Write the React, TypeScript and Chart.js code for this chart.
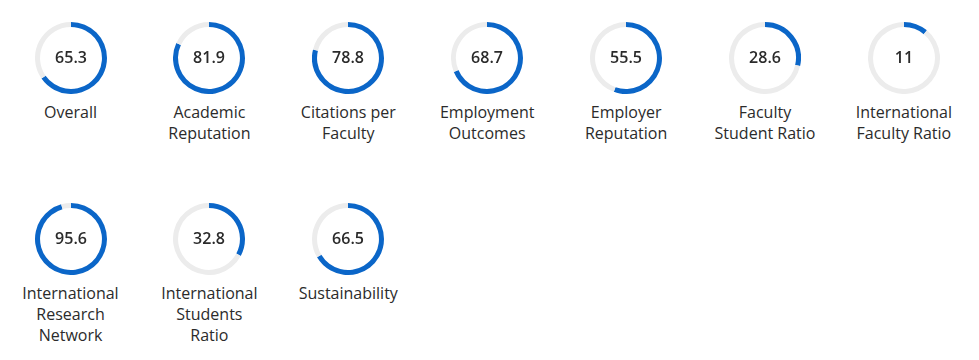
import React, { useEffect, useRef } from "react";
import { Chart, registerables } from "chart.js";

Chart.register(...registerables);

const categories: string[][] = [
  ["Overall"],
  ["Academic", "Reputation"],
  ["Citations per", "Faculty"],
  ["Employment", "Outcomes"],
  ["Employer", "Reputation"],
  ["Faculty", "Student Ratio"],
  ["International", "Faculty Ratio"],
  ["International", "Research", "Network"],
  ["International", "Students", "Ratio"],
  ["Sustainability"],
];
const scores: number[] = [65.3, 81.9, 78.8, 68.7, 55.5, 28.6, 11, 95.6, 32.8, 66.5];
const scoreLabels: string[] = ["65.3", "81.9", "78.8", "68.7", "55.5", "28.6", "11", "95.6", "32.8", "66.5"];
const maxScore = 100;

const BLUE = "#0b66c8";
const GREY = "#ececec";
const TEXT = "#2b2b2b";
const FONT = "'Open Sans', 'Noto Sans', sans-serif";

const PER_ROW = 7;
const X0 = 70.5;
const DX = 138.9;
const Y0 = 57.5;
const DY = 181;
const R = 36;

function Gauge({ value, text }: { value: number; text: string }) {
  const ref = useRef<HTMLCanvasElement | null>(null);
  useEffect(() => {
    if (!ref.current) return;
    const centerText = {
      id: "centerText",
      afterDraw(chart: any) {
        const { ctx, chartArea } = chart;
        const cx = (chartArea.left + chartArea.right) / 2;
        const cy = (chartArea.top + chartArea.bottom) / 2;
        ctx.save();
        ctx.font = `600 16px ${FONT}`;
        ctx.fillStyle = TEXT;
        ctx.textAlign = "center";
        ctx.textBaseline = "middle";
        ctx.fillText(text, cx, cy + 0.5);
        ctx.restore();
      },
    };
    const chart = new Chart(ref.current, {
      type: "doughnut",
      data: {
        labels: ["score", "rest"],
        datasets: [
          {
            data: [value, maxScore - value],
            backgroundColor: [BLUE, GREY],
            borderWidth: 0,
          },
        ],
      },
      options: {
        animation: false,
        responsive: false,
        cutout: "86%",
        events: [],
        plugins: { legend: { display: false }, tooltip: { enabled: false } },
      },
      plugins: [centerText],
    });
    return () => chart.destroy();
  }, [value, text]);
  return <canvas ref={ref} width={2 * R} height={2 * R} style={{ width: 2 * R, height: 2 * R, display: "block" }} />;
}

export default function App() {
  return (
    <div style={{ position: "fixed", left: 0, top: 0, width: 979, height: 360, background: "#fff", overflow: "hidden" }}>
      {scores.map((v, i) => {
        const cx = X0 + DX * (i % PER_ROW);
        const cy = Y0 + DY * Math.floor(i / PER_ROW);
        return (
          <React.Fragment key={i}>
            <div style={{ position: "absolute", left: cx - R, top: cy - R, width: 2 * R, height: 2 * R }}>
              <Gauge value={v} text={scoreLabels[i]} />
            </div>
            <div
              style={{
                position: "absolute",
                left: cx - 70,
                top: cy + 44,
                width: 140,
                textAlign: "center",
                fontFamily: FONT,
                fontSize: 16,
                lineHeight: "21px",
                color: TEXT,
              }}
            >
              {categories[i].map((line, j) => (
                <div key={j} style={{ whiteSpace: "nowrap" }}>{line}</div>
              ))}
            </div>
          </React.Fragment>
        );
      })}
    </div>
  );
}
